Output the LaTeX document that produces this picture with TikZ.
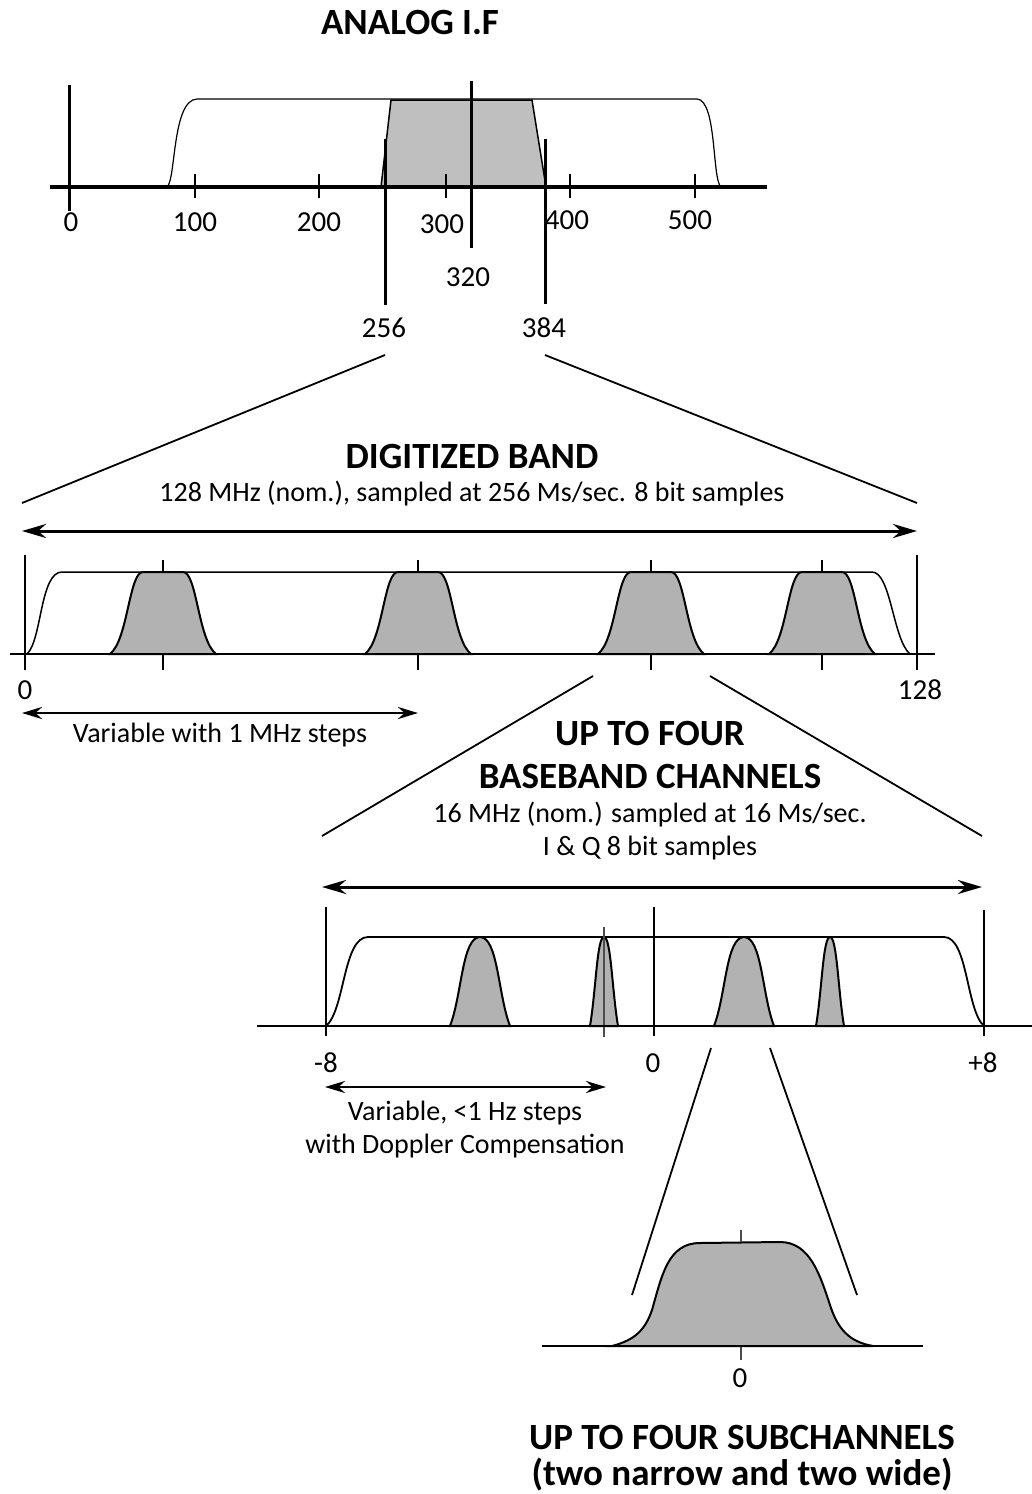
\documentclass[tikz,border=0pt]{standalone}
\usepackage{fontspec}
\setmainfont{Carlito}
\usetikzlibrary{arrows.meta}
\begin{document}
\begin{tikzpicture}[x=1pt,y=-1pt,
  title/.style={font=\fontsize{37}{41}\selectfont\bfseries, inner sep=0pt},
  sub/.style={font=\fontsize{28}{32}\selectfont, inner sep=0pt},
  lab/.style={font=\fontsize{29}{33}\selectfont, inner sep=0pt},
  axis/.style={line width=2.5pt},
  thinv/.style={line width=1.5pt},
  proj/.style={line width=1.8pt},
  bump/.style={line width=2pt, fill=gray!60},
  ticksm/.style={line width=1.3pt, draw=black!70},
  dbl/.style={line width=3pt, {Stealth[length=24pt,width=14pt]}-{Stealth[length=24pt,width=14pt]}},
  dbls/.style={line width=2.5pt, {Stealth[length=20pt,width=12pt]}-{Stealth[length=20pt,width=12pt]}}
]
\useasboundingbox (0,0) rectangle (1032,1494);

%% ---------------- ANALOG I.F ----------------
\node[title] (tA) at (410,22) {ANALOG I.F};
\filldraw[line width=1.5pt, fill=gray!50] (381,187) -- (391,100) -- (532,100) -- (546,187) -- cycle;
\draw[line width=1.2pt] (167,187) .. controls (176,180) and (172,100) .. (197,99) -- (697,99) .. controls (717,100) and (712,180) .. (721,187);
\draw[line width=3.5pt] (50,187) -- (767,187);
\draw[line width=3pt] (69,85) -- (69,211);
\foreach \xx in {195,319,446,570,695} \draw[line width=2.5pt] (\xx,174) -- (\xx,198);
\draw[line width=3pt] (471,81) -- (471,248);
\draw[line width=3pt] (385,139) -- (385,305);
\draw[line width=3pt] (545,139) -- (545,304);
\node[lab] (l0) at (71,222) {0};
\node[lab] (l100) at (195,222) {100};
\node[lab] (l200) at (319,222) {200};
\node[lab] (l300) at (442,224) {300};
\node[lab] (l400) at (567,220) {400};
\node[lab] (l500) at (690,220) {500};
\node[lab] (l320) at (468,277) {320};
\node[lab] (l256) at (384,328) {256};
\node[lab] (l384) at (544,328) {384};

%% projection to digitized band
\coordinate (p1a) at (385,355); \coordinate (p1b) at (22,503);
\coordinate (p2a) at (545,355); \coordinate (p2b) at (917,503);
\draw[proj] (p1a) -- (p1b);
\draw[proj] (p2a) -- (p2b);

%% ---------------- DIGITIZED BAND ----------------
\node[title] (tD) at (472,456) {DIGITIZED BAND};
\node[sub] (sD) at (472,494) {128 MHz (nom.), sampled at 256 Ms/sec. 8 bit samples};
\coordinate (dA) at (22,531); \coordinate (dB) at (917,531);
\draw[dbl] (dA) -- (dB);

\draw[line width=1.5pt] (27,654) .. controls (42,640) and (40,572) .. (62,572) -- (872,572) .. controls (891,572) and (893,640) .. (910,654);
\foreach \c in {163,418,651,822} {
  \filldraw[bump] ({\c-53},654) .. controls ({\c-35},640) and ({\c-34},572) .. ({\c-20},572) -- ({\c+20},572) .. controls ({\c+34},572) and ({\c+35},640) .. ({\c+53},654) -- cycle;
  \draw[line width=1.5pt] (\c,560) -- (\c,572);
  \draw[line width=1.5pt] (\c,654) -- (\c,670);
}
\draw[axis] (10,654) -- (935,654);
\draw[thinv] (25,555) -- (25,670);
\draw[thinv] (917,555) -- (917,670);
\node[lab] (d0) at (25,690) {0};
\node[lab] (d128) at (920,690) {128};
\coordinate (vA) at (22,713); \coordinate (vB) at (418,713);
\draw[dbls] (vA) -- (vB);
\node[sub] (vt) at (220,735) {Variable with 1 MHz steps};

%% projection to baseband
\coordinate (p3a) at (593,676); \coordinate (p3b) at (322,836);
\coordinate (p4a) at (710,676); \coordinate (p4b) at (982,836);
\draw[proj] (p3a) -- (p3b);
\draw[proj] (p4a) -- (p4b);

%% ---------------- BASEBAND ----------------
\node[title] (tB1) at (650,733) {UP TO FOUR};
\node[title] (tB2) at (650,776) {BASEBAND CHANNELS};
\node[sub] (sB1) at (650,815) {16 MHz (nom.) sampled at 16 Ms/sec.};
\node[sub] (sB2) at (650,848) {I \& Q 8 bit samples};
\coordinate (bA) at (322,887); \coordinate (bB) at (982,887);
\draw[dbl] (bA) -- (bB);

\draw[line width=1.8pt] (326,1026) .. controls (345,1010) and (343,937) .. (368,937) -- (944,937) .. controls (968,937) and (966,1010) .. (984,1026);
\foreach \c in {480,744} {
  \filldraw[bump] ({\c-30},1026) .. controls ({\c-18},995) and ({\c-18},937) .. (\c,937) .. controls ({\c+18},937) and ({\c+18},995) .. ({\c+30},1026) -- cycle;
}
\foreach \c in {604,830} {
  \filldraw[bump] ({\c-14},1026) .. controls ({\c-8},990) and ({\c-7},937) .. (\c,937) .. controls ({\c+7},937) and ({\c+8},990) .. ({\c+14},1026) -- cycle;
}
\draw[ticksm] (604,927) -- (604,1037);
\draw[axis] (257,1026) -- (1032,1026);
\draw[thinv] (326,907) -- (326,1036);
\draw[thinv] (654,907) -- (654,1036);
\draw[thinv] (984,910) -- (984,1036);
\node[lab] (bm8) at (326,1063) {-8};
\node[lab] (b0) at (653,1063) {0};
\node[lab] (bp8) at (983,1063) {+8};
\coordinate (wA) at (325,1087); \coordinate (wB) at (606,1087);
\draw[dbls] (wA) -- (wB);
\node[sub] (wt1) at (465,1113) {Variable, <1 Hz steps};
\node[sub] (wt2) at (465,1146) {with Doppler Compensation};

%% projection to subchannel
\coordinate (p5a) at (711,1048); \coordinate (p5b) at (632,1295);
\coordinate (p6a) at (770,1048); \coordinate (p6b) at (857,1295);
\draw[proj] (p5a) -- (p5b);
\draw[proj] (p6a) -- (p6b);

%% ---------------- SUBCHANNEL ----------------
\filldraw[bump] (612,1346) .. controls (635,1340) and (645,1330) .. (652,1310) .. controls (662,1275) and (668,1243) .. (700,1243) -- (780,1242) .. controls (810,1242) and (820,1275) .. (830,1305) .. controls (838,1330) and (850,1342) .. (873,1346) -- cycle;
\draw[ticksm] (741,1230) -- (741,1242);
\draw[ticksm] (741,1346) -- (741,1360);
\draw[axis] (542,1346) -- (923,1346);
\node[lab] (s0) at (740,1378) {0};
\node[title] (tS1) at (742,1437) {UP TO FOUR SUBCHANNELS};
\node[title] (tS2) at (742,1475) {(two narrow and two wide)};
\end{tikzpicture}
\end{document}
